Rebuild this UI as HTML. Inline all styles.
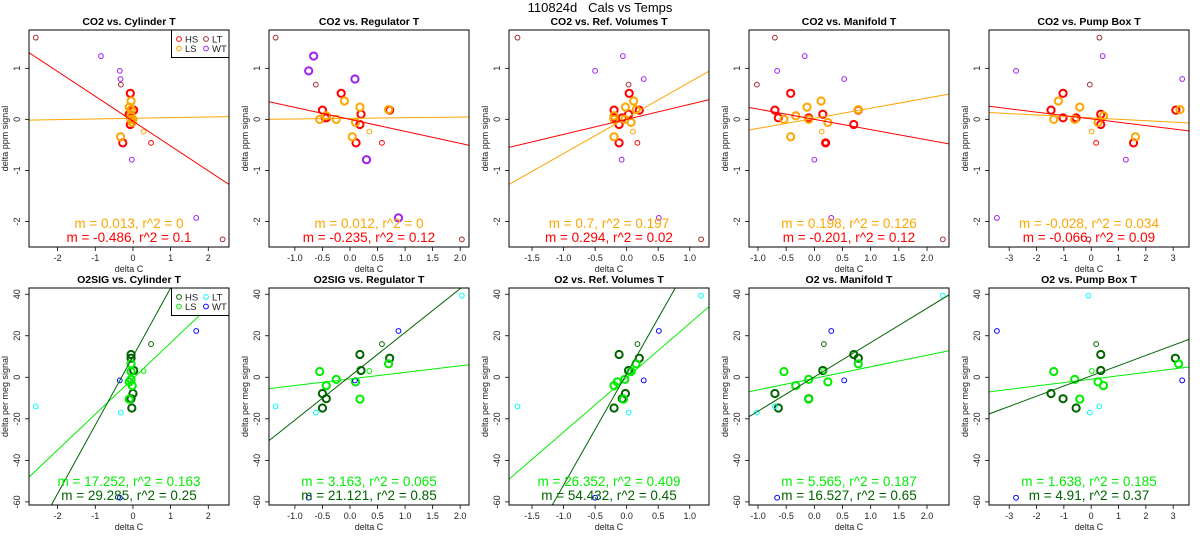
<!DOCTYPE html>
<html><head><meta charset="utf-8">
<style>
html,body{margin:0;padding:0;background:#fff;width:1200px;height:550px;overflow:hidden;}
svg{display:block;font-family:"Liberation Sans",Arial,sans-serif;}
</style></head>
<body>
<svg id="fig" width="1200" height="550" viewBox="0 0 1200 550">
<text x="600" y="12" font-size="13" text-anchor="middle">110824d&#160;&#160;&#160;Cals vs Temps</text>
</svg>
<script>
// ---------- data ----------
const columnNames = ["Cylinder T","Regulator T","Ref. Volumes T","Manifold T","Pump Box T"];
const topPrefix = ["CO2","CO2","CO2","CO2","CO2"];
const bottomPrefix = ["O2SIG","O2SIG","O2","O2","O2"];
const xDomains = [[-2.76,2.55],[-1.47,2.16],[-1.865,1.305],[-1.16,2.39],[-3.74,3.58]];
const xTicks = [[-2,-1,0,1,2],[-1.0,-0.5,0.0,0.5,1.0,1.5,2.0],[-1.5,-1.0,-0.5,0.0,0.5,1.0],[-1.0,-0.5,0.0,0.5,1.0,1.5,2.0],[-3,-2,-1,0,1,2,3]];
const xTickDecimals = [0,1,1,1,0];
const topYDomain = [-2.5,1.75];
const topYTicks = [-2,-1,0,1];
const bottomYDomain = [-61.5,43];
const bottomYTicks = [-60,-40,-20,0,20,40];

// top (CO2) samples
const topTypes = ["HS","HS","HS","HS","HS","HS","HS","HS","LS","LS","LS","LS","LS","LS","LS","LS","LT","LT","HSs","LSs","LT","WT","WT","WT","WT","WT"];
const topY = [0.51,0.18,0.18,0.1,0.03,0.03,-0.1,-0.46,0.36,0.24,0.19,0.07,0,0,-0.06,-0.34,1.6,0.68,-0.46,-0.24,-2.35,1.24,0.95,0.79,-0.79,-1.93];
const topX = [
[-0.07,-0.16,0.04,-0.42,-1.03],[0.02,-0.5,-0.2,-0.7,-1.47],[-0.05,0.72,0.2,0.78,3.1],[-0.1,0.2,0.03,0.15,0.35],
[-0.05,-0.43,-0.07,-0.64,-1.03],[-0.05,-0.45,-0.2,-0.1,-0.55],[-0.07,0.18,-0.12,0.7,0.35],[-0.27,0.11,-0.12,0.2,1.55],
[-0.05,-0.1,0.11,0.12,-1.2],[-0.1,0.18,-0.02,-0.13,-0.42],[-0.05,0.7,0.15,0.78,3.25],[-0.05,-0.43,-0.2,-0.33,0.45],
[-0.05,-0.55,-0.2,-0.54,-1.37],[0,-0.25,-0.03,-0.1,-0.6],[-0.02,0.1,0.07,0.24,0.25],[-0.33,0.04,-0.2,-0.42,1.62],
[-2.58,-1.35,-1.73,-0.7,0.3],[-0.32,-0.62,0.03,-1.02,-0.05],[0.48,0.58,0.17,0.2,0.18],[0.28,0.35,0.1,0.13,0.02],
[2.38,2.03,1.18,2.28,-0.1],[-0.85,-0.66,-0.06,-0.17,0.42],[-0.35,-0.75,-0.5,-0.66,-2.75],[-0.33,0.09,0.27,0.53,3.33],
[-0.03,0.3,-0.08,0,1.27],[1.68,0.88,0.51,0.3,-3.45]];

// bottom (O2) samples
const bottomTypes = ["HS","HS","HS","HS","HS","HS","LS","LS","LS","LS","LS","LS","HSs","LSs","LT","LT","LT","WT","WT","WT"];
const bottomY = [11,9.2,3.3,-7.8,-10.3,-14.8,2.8,6.5,-1,-2.2,-4,-10.5,16,3,39.3,-14,-17,22.3,-1.5,-58];
const bottomX = [
[-0.05,0.18,-0.12,0.7,0.35],[-0.05,0.72,0.2,0.78,3.08],[0.02,0.2,0.03,0.15,0.35],[0,-0.5,-0.02,-0.7,-1.47],
[-0.05,-0.43,-0.07,-0.1,-1.03],[-0.03,-0.5,-0.2,-0.64,-0.55],[-0.05,-0.55,0.07,-0.54,-1.37],[-0.05,0.7,0.15,0.78,3.2],
[-0.05,-0.25,-0.03,-0.1,-0.6],[-0.1,0.1,-0.15,0.24,0.25],[-0.02,-0.43,-0.2,-0.33,0.45],[-0.1,0.18,-0.05,-0.1,-0.42],
[0.48,0.58,0.17,0.17,0.18],[0.28,0.35,0.1,0.17,0.02],[2.38,2.03,1.18,2.28,-0.1],[-2.58,-1.35,-1.73,-0.7,0.3],
[-0.32,-0.62,0.03,-1.02,-0.05],[1.68,0.88,0.51,0.3,-3.45],[-0.35,0.09,0.27,0.53,3.33],[-0.35,-0.75,-0.5,-0.66,-2.75]];

// regression lines: slope, intercept
const topHSSlope = [-0.486,-0.235,0.294,-0.201,-0.066];
const topHSIntercept = [-0.035,0.0,0.0,0.0,0.01];
const topLSSlope = [0.013,0.012,0.7,0.198,-0.028];
const topLSIntercept = [0.02,0.02,0.03,0.02,0.03];
const botHSSlope = [33,21.1,53.6,16.527,4.91];
const botHSIntercept = [10,0.5,1.7,0.2,0.7];
const botLSSlope = [17.2,3.163,26.2,5.565,1.638];
const botLSIntercept = [-0.6,-0.8,-0.2,-0.5,-0.9];

const topLSLabel = ["m = 0.013, r^2 = 0","m = 0.012, r^2 = 0","m = 0.7, r^2 = 0.197","m = 0.198, r^2 = 0.126","m = -0.028, r^2 = 0.034"];
const topHSLabel = ["m = -0.486, r^2 = 0.1","m = -0.235, r^2 = 0.12","m = 0.294, r^2 = 0.02","m = -0.201, r^2 = 0.12","m = -0.066, r^2 = 0.09"];
const botLSLabel = ["m = 17.252, r^2 = 0.163","m = 3.163, r^2 = 0.065","m = 26.352, r^2 = 0.409","m = 5.565, r^2 = 0.187","m = 1.638, r^2 = 0.185"];
const botHSLabel = ["m = 29.285, r^2 = 0.25","m = 21.121, r^2 = 0.85","m = 54.432, r^2 = 0.45","m = 16.527, r^2 = 0.65","m = 4.91, r^2 = 0.37"];

// ---------- drawing ----------
const NS = "http://www.w3.org/2000/svg";
const svg = document.getElementById("fig");
const topColors = {HS:"#ff0000",LS:"#ffa500",HSs:"#ff0000",LSs:"#ffa500",LT:"#a52a2a",WT:"#a020f0"};
const botColors = {HS:"#006400",LS:"#00ee00",HSs:"#006400",LSs:"#00ee00",LT:"#00ffff",WT:"#0000ff"};
function mk(tag, attrs, parent){
  const e = document.createElementNS(NS, tag);
  for (const k in attrs) e.setAttribute(k, attrs[k]);
  (parent||svg).appendChild(e);
  return e;
}
const defs = mk("defs",{});

function drawPanel(col,row){
  const L = 29 + 240*col, R = L + 200;
  const T = row===0 ? 30 : 288, B = row===0 ? 247 : 505;
  const xd = xDomains[col];
  const yd = row===0 ? topYDomain : bottomYDomain;
  const sx = v => L + (v - xd[0])/(xd[1]-xd[0])*(R-L);
  const sy = v => B - (v - yd[0])/(yd[1]-yd[0])*(B-T);
  const g = mk("g",{});
  
  
  const cid = "clip"+row+"_"+col;
  const cp = mk("clipPath",{id:cid},defs);
  mk("rect",{x:L,y:T,width:R-L,height:B-T},cp);

  const title = mk("text",{x:(L+R)/2,y:T-5,"font-size":"10.5","font-weight":"bold","text-anchor":"middle"},g);
  title.textContent = (row===0?topPrefix[col]:bottomPrefix[col])+" vs. "+columnNames[col];
  
  

  const xt = xTicks[col];
  for (let i=0;i<xt.length;i++){
    const px = sx(xt[i]);
    mk("line",{x1:px,x2:px,y1:B,y2:B+4,stroke:"#000","stroke-width":"0.8"},g);
    const t = mk("text",{x:px,y:B+14,"font-size":"9","text-anchor":"middle",fill:"#222"},g);
    t.textContent = xt[i].toFixed(xTickDecimals[col]);
    
    
  }
  const xl = mk("text",{x:(L+R)/2,y:B+25,"font-size":"9","text-anchor":"middle",fill:"#222"},g);
  xl.textContent = "delta C";
  
  

  const yt = row===0 ? topYTicks : bottomYTicks;
  for (let i=0;i<yt.length;i++){
    const py = sy(yt[i]);
    mk("line",{x1:L-4,x2:L,y1:py,y2:py,stroke:"#000","stroke-width":"0.8"},g);
    const t = mk("text",{x:L-9,y:py,"font-size":"9","text-anchor":"middle",fill:"#222",transform:"rotate(-90 "+(L-9)+" "+py+")"},g);
    t.textContent = String(yt[i]);
    
    
  }
  const ym = (T+B)/2, yx = L-21;
  const yl = mk("text",{x:yx,y:ym,"font-size":"9","text-anchor":"middle",fill:"#222",transform:"rotate(-90 "+yx+" "+ym+")"},g);
  yl.textContent = row===0 ? "delta ppm signal" : "delta per meg signal";
  
  

  const types = row===0 ? topTypes : bottomTypes;
  const ys = row===0 ? topY : bottomY;
  const xs = row===0 ? topX : bottomX;
  const colors = row===0 ? topColors : botColors;
  const pg = mk("g",{"clip-path":"url(#"+cid+")"},g);
  for (let i=0;i<types.length;i++){
    const ty = types[i];
    let big = (ty==="HS"||ty==="LS");
    if (row===0 && col===1 && ty==="WT") big = true;
    const c = mk("circle",{cx:sx(xs[i][col]),cy:sy(ys[i]),r:big?3.6:2.4,fill:"none",stroke:colors[ty],"stroke-width":big?2:1},pg);
    
    
  }

  const lines = row===0
    ? [[topLSSlope[col],topLSIntercept[col],"#ffa500","ls-fit-line"],[topHSSlope[col],topHSIntercept[col],"#ff0000","hs-fit-line"]]
    : [[botLSSlope[col],botLSIntercept[col],"#00ee00","ls-fit-line"],[botHSSlope[col],botHSIntercept[col],"#006400","hs-fit-line"]];
  for (const ln of lines){
    const l = mk("line",{x1:sx(xd[0]),y1:sy(ln[0]*xd[0]+ln[1]),x2:sx(xd[1]),y2:sy(ln[0]*xd[1]+ln[1]),stroke:ln[2],"stroke-width":"1"},pg);
    
    
  }

  const a1 = mk("text",{x:(L+R)/2,y:B-19,"font-size":"13.5","text-anchor":"middle",fill:row===0?"#ffa500":"#00ee00"},g);
  a1.textContent = row===0 ? topLSLabel[col] : botLSLabel[col];
  
  
  const a2 = mk("text",{x:(L+R)/2,y:B-5,"font-size":"13.5","text-anchor":"middle",fill:row===0?"#ff0000":"#006400"},g);
  a2.textContent = row===0 ? topHSLabel[col] : botHSLabel[col];
  
  

  if (col===0){
    const lg = mk("g",{},g);
    
    
    mk("rect",{x:171.5,y:T,width:R-171.5,height:27.5,fill:"#fff",stroke:"#000","stroke-width":"1"},lg);
    const entries = [["HS",179,T+9],["LS",179,T+18.5],["LT",206,T+9],["WT",206,T+18.5]];
    for (const en of entries){
      const c = mk("circle",{cx:en[1],cy:en[2],r:2.4,fill:"none",stroke:colors[en[0]],"stroke-width":"1"},lg);
      
      
      const t = mk("text",{x:en[1]+6,y:en[2]+3.5,"font-size":"9.5",fill:"#222"},lg);
      t.textContent = en[0];
      
      
    }
  }

  mk("rect",{x:L,y:T,width:R-L,height:B-T,fill:"none",stroke:"#000","stroke-width":"1"},g);
}
for (let r=0;r<2;r++) for (let c=0;c<5;c++) drawPanel(c,r);
</script>
</body></html>
